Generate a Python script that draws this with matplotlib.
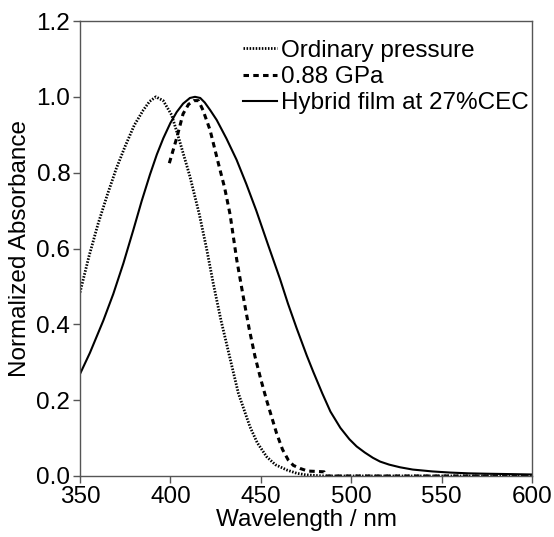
import matplotlib
matplotlib.use("Agg")
import matplotlib.pyplot as plt

plt.rcParams['font.family'] = ['Liberation Sans', 'DejaVu Sans']

# Ordinary pressure (dotted)
wl_ord = [350, 355, 360, 365, 370, 375, 380, 385, 388.5, 392,
          396, 400.7, 405, 410.8, 416, 420, 423.7, 428, 433, 437.6, 444, 448,
          453.2, 458, 464.3, 470, 475, 485, 500, 550, 600]
ab_ord = [0.484, 0.58, 0.665, 0.74, 0.81, 0.87, 0.925, 0.965, 0.988, 1.0,
          0.99, 0.952, 0.885, 0.79, 0.69, 0.60, 0.508, 0.41, 0.31, 0.218, 0.13, 0.088,
          0.051, 0.03, 0.016, 0.007, 0.003, 0.0, 0.0, 0.0, 0.0]

# 0.88 GPa (dashed)
wl_gpa = [399.4, 403.4, 407, 410, 413, 415.5, 418, 421.9, 426.5, 430, 433, 436.7,
          440.3, 443.5, 446.8, 450, 453.2, 458.7, 462, 465.2, 468, 471.7, 476,
          481, 485, 486, 520, 560, 600]
ab_gpa = [0.825, 0.89, 0.955, 0.98, 0.99, 0.99, 0.965, 0.913, 0.825, 0.76, 0.69, 0.57,
          0.473, 0.39, 0.315, 0.255, 0.20, 0.113, 0.07, 0.042, 0.028, 0.02, 0.013,
          0.012, 0.011, 0.0, 0.0, 0.0, 0.0]

# Hybrid film at 27%CEC (solid)
wl_hyb = [350, 355.5, 362.9, 368.4, 374, 379.5, 384.1, 388.7, 392.5, 396.1, 400,
          403.5, 407, 410.8, 413.6, 416.5, 419, 422, 425.6, 431,
          436.6, 442, 447.5, 454, 460.6, 465, 469.8, 475.4, 479, 484, 488.5, 494,
          499, 503, 507.5, 512, 516, 521, 527, 534, 545, 555, 565, 575, 588, 600]
ab_hyb = [0.269, 0.325, 0.41, 0.48, 0.561, 0.649, 0.725, 0.795, 0.848, 0.891, 0.931,
          0.96, 0.982, 0.997, 1.0, 0.997, 0.985, 0.965, 0.939, 0.89,
          0.834, 0.77, 0.70, 0.61, 0.52, 0.455, 0.39, 0.318, 0.275, 0.218, 0.17, 0.127,
          0.097, 0.078, 0.062, 0.048, 0.038, 0.03, 0.023, 0.017, 0.012, 0.009, 0.007, 0.006, 0.005, 0.004]

labels = ["Ordinary pressure", "0.88 GPa", "Hybrid film at 27%CEC"]
x_ticks = [350, 400, 450, 500, 550, 600]
y_ticks = [0.0, 0.2, 0.4, 0.6, 0.8, 1.0, 1.2]

fig = plt.figure(figsize=(5.54, 5.37), dpi=100)
ax = fig.add_axes([80/554, 1 - 476/537, 452/554, 455/537])

ax.plot(wl_ord, ab_ord, color='black', lw=2.0, linestyle=(0, (0.55, 0.55)), label=labels[0])
ax.plot(wl_gpa, ab_gpa, color='black', lw=2.2, linestyle=(0, (1.8, 1.4)), label=labels[1])
ax.plot(wl_hyb, ab_hyb, color='black', lw=1.5, linestyle='-', label=labels[2])

ax.set_xlim(350, 600)
ax.set_ylim(0, 1.2)
ax.set_xticks(x_ticks)
ax.set_yticks(y_ticks)
ax.set_xticklabels([str(t) for t in x_ticks])
ax.set_yticklabels([f"{t:.1f}" for t in y_ticks])
for s in ax.spines.values():
    s.set_color('#555555')
    s.set_linewidth(1.0)
ax.tick_params(direction='out', length=5, width=1.0, color='#555555',
               labelsize=17.5, pad=2, top=False, right=False)
ax.set_xlabel("Wavelength / nm", fontsize=17.5, labelpad=1)
ax.set_ylabel("Normalized Absorbance", fontsize=17.5, labelpad=4)

leg = ax.legend(loc='upper right', bbox_to_anchor=(1.0 + 2/452, 1 - 14/455), frameon=False,
                fontsize=17.5, handlelength=1.4, handletextpad=0.2,
                labelspacing=0.17, borderaxespad=0.0, borderpad=0.2)

fig.savefig("out.png", dpi=100)
